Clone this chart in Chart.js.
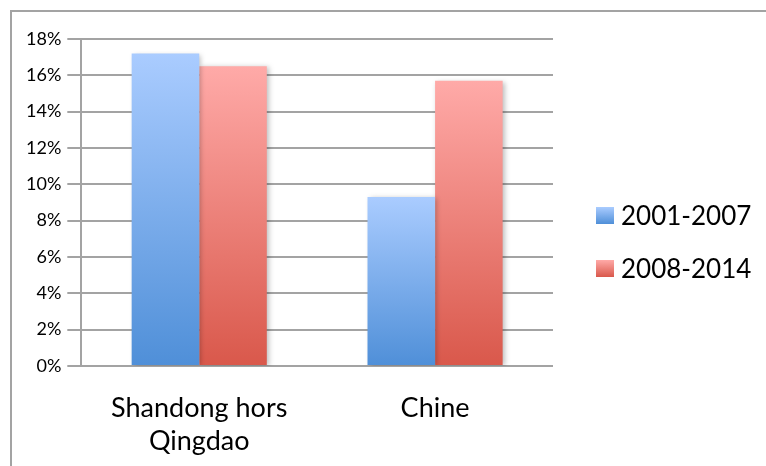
<!DOCTYPE html>
<html>
<head>
<meta charset="utf-8">
<script src="https://cdn.jsdelivr.net/npm/chart.js@4"></script>
<style>
  body { margin: 0; background: #fff; }
  #wrap { position: relative; width: 766px; height: 466px; overflow: hidden; font-family: Lato, sans-serif; }
  #cadre { position: absolute; left: 10px; top: 10px; width: 800px; height: 500px;
           border: 2px solid #a3a3a3; pointer-events: none; }
  canvas { position: absolute; left: 0; top: 0; }
  #legende { position: absolute; left: 596px; top: 199px; }
  .item { height: 53px; display: flex; align-items: flex-start; font-size: 26px; line-height: 32px; color: #000; }
  .carre { width: 18px; height: 17px; margin: 8px 7px 0 0; }
</style>
</head>
<body>
<div id="wrap">
  <div id="cadre"></div>
  <canvas id="chart" width="766" height="466"></canvas>
  <div id="legende"></div>
</div>
<script>
// données
const categories = [['Shandong hors', 'Qingdao'], 'Chine'];
const periodes = ['2001-2007', '2008-2014'];
const valeurs2001 = [17.2, 9.3];
const valeurs2008 = [16.5, 15.7];
const ticksY = [0, 2, 4, 6, 8, 10, 12, 14, 16, 18];

// couleurs du dégradé (haut clair -> bas foncé)
const bleu = { haut: '#aaccff', bas: '#4f8fd8' };
const rouge = { haut: '#ffaaa8', bas: '#d9584b' };

function degrade(couleurs) {
  return function (ctx) {
    const chart = ctx.chart;
    if (!chart.chartArea || ctx.type !== 'data') return couleurs.bas;
    const y = chart.scales.y;
    const haut = y.getPixelForValue(ctx.raw);
    const bas = y.getPixelForValue(0);
    const g = chart.ctx.createLinearGradient(0, haut, 0, bas);
    g.addColorStop(0, couleurs.haut);
    g.addColorStop(1, couleurs.bas);
    return g;
  };
}

// petite ombre sous les barres
const ombre = {
  id: 'ombre',
  beforeDatasetsDraw(chart) {
    const c = chart.ctx;
    c.save();
    c.shadowColor = 'rgba(0,0,0,0.25)';
    c.shadowBlur = 5;
    c.shadowOffsetX = 2;
    c.shadowOffsetY = 1;
  },
  afterDatasetsDraw(chart) {
    chart.ctx.restore();
  }
};

const gris = '#a3a3a3';

new Chart(document.getElementById('chart'), {
  type: 'bar',
  data: {
    labels: categories,
    datasets: [
      { label: periodes[0], data: valeurs2001, backgroundColor: degrade(bleu) },
      { label: periodes[1], data: valeurs2008, backgroundColor: degrade(rouge) }
    ]
  },
  options: {
    responsive: false,
    animation: false,
    layout: { padding: { left: 20, top: 39, right: 213, bottom: 8 } },
    datasets: { bar: { barPercentage: 1, categoryPercentage: 0.573 } },
    plugins: {
      tooltip: { enabled: false },
      legend: { display: false }
    },
    scales: {
      x: {
        grid: { display: false },
        border: { display: false },
        afterFit(axis) { axis.height = 92; },
        ticks: { font: { family: 'Lato', size: 27, lineHeight: 1.22 }, color: '#000', padding: 18, maxRotation: 0 }
      },
      y: {
        min: 0,
        max: 18,
        afterBuildTicks(axis) { axis.ticks = ticksY.map(v => ({ value: v })); },
        grid: { color: gris, lineWidth: 2, tickLength: 14 },
        border: { color: gris, width: 2 },
        ticks: { font: { family: 'Lato', size: 18 }, color: '#000', padding: 6, callback: v => v + '%' }
      }
    }
  },
  plugins: [ombre]
});

// légende en HTML, avec le même dégradé que les barres
const legende = document.getElementById('legende');
[bleu, rouge].forEach((c, i) => {
  const item = document.createElement('div');
  item.className = 'item';
  const carre = document.createElement('div');
  carre.className = 'carre';
  carre.style.background = 'linear-gradient(' + c.haut + ',' + c.bas + ')';
  const texte = document.createElement('span');
  texte.textContent = periodes[i];
  item.appendChild(carre);
  item.appendChild(texte);
  legende.appendChild(item);
});
</script>
</body>
</html>
